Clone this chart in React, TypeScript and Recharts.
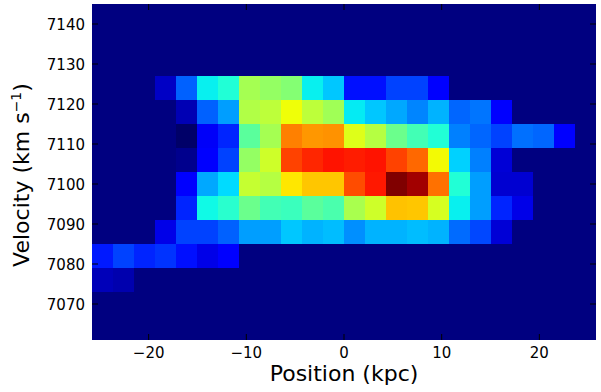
import { ScatterChart, Scatter, XAxis, YAxis } from 'recharts'

// bin centres of the position-velocity grid
const positions = [
  -24.725, -22.575, -20.425, -18.275, -16.125, -13.975, -11.825, -9.675,
  -7.525, -5.375, -3.225, -1.075, 1.075, 3.225, 5.375, 7.525,
  9.675, 11.825, 13.975, 16.125, 18.275, 20.425, 22.575, 24.725,
]
const velocities = [7142, 7136, 7130, 7124, 7118, 7112, 7106, 7100, 7094, 7088, 7082, 7076, 7070, 7064]

const xTicks = [-20, -10, 0, 10, 20]
const yTicks = [7070, 7080, 7090, 7100, 7110, 7120, 7130, 7140]

// normalised flux per velocity row (top to bottom), one value per position bin
const v7142 = [0, 0, 0, 0, 0, 0, 0, 0, 0, 0, 0, 0, 0, 0, 0, 0, 0, 0, 0, 0, 0, 0, 0, 0]
const v7136 = [0, 0, 0, 0, 0, 0, 0, 0, 0, 0, 0, 0, 0, 0, 0, 0, 0, 0, 0, 0, 0, 0, 0, 0]
const v7130 = [0, 0, 0, 0, 0, 0, 0, 0, 0, 0, 0, 0, 0, 0, 0, 0, 0, 0, 0, 0, 0, 0, 0, 0]
const v7124 = [0, 0, 0, 0.06, 0.22, 0.36, 0.39, 0.55, 0.53, 0.51, 0.36, 0.32, 0.14, 0.14, 0.19, 0.19, 0.12, 0, 0, 0, 0, 0, 0, 0]
const v7118 = [0, 0, 0, 0, 0.045, 0.22, 0.28, 0.565, 0.58, 0.64, 0.58, 0.545, 0.355, 0.32, 0.29, 0.255, 0.3, 0.225, 0.24, 0.12, 0, 0, 0, 0]
const v7112 = [0, 0, 0, 0, -0.02, 0.105, 0.16, 0.46, 0.55, 0.775, 0.75, 0.755, 0.62, 0.57, 0.48, 0.43, 0.39, 0.25, 0.225, 0.19, 0.235, 0.225, 0.12, 0]
const v7106 = [0, 0, 0, 0, 0.012, 0.12, 0.19, 0.53, 0.6, 0.84, 0.87, 0.89, 0.88, 0.89, 0.84, 0.8, 0.645, 0.33, 0.25, 0.075, 0, 0, 0, 0]
const v7100 = [0, 0, 0, 0, 0.12, 0.29, 0.34, 0.59, 0.57, 0.665, 0.7, 0.7, 0.83, 0.885, 1.0, 0.97, 0.79, 0.39, 0.28, 0.07, 0.07, 0, 0, 0]
const v7094 = [0, 0, 0, 0, 0.16, 0.37, 0.4, 0.48, 0.43, 0.42, 0.46, 0.44, 0.555, 0.6, 0.705, 0.7, 0.61, 0.36, 0.28, 0.16, 0.09, 0, 0, 0]
const v7088 = [0, 0, 0, 0.09, 0.19, 0.19, 0.22, 0.28, 0.28, 0.32, 0.3, 0.31, 0.265, 0.3, 0.3, 0.31, 0.3, 0.23, 0.195, 0.075, 0, 0, 0, 0]
const v7082 = [0.15, 0.19, 0.16, 0.175, 0.14, 0.09, 0.12, 0, 0, 0, 0, 0, 0, 0, 0, 0, 0, 0, 0, 0, 0, 0, 0, 0]
const v7076 = [0.05, 0.04, 0, 0, 0, 0, 0, 0, 0, 0, 0, 0, 0, 0, 0, 0, 0, 0, 0, 0, 0, 0, 0, 0]
const v7070 = [0, 0, 0, 0, 0, 0, 0, 0, 0, 0, 0, 0, 0, 0, 0, 0, 0, 0, 0, 0, 0, 0, 0, 0]
const v7064 = [0, 0, 0, 0, 0, 0, 0, 0, 0, 0, 0, 0, 0, 0, 0, 0, 0, 0, 0, 0, 0, 0, 0, 0]

const rows = [v7142, v7136, v7130, v7124, v7118, v7112, v7106, v7100, v7094, v7088, v7082, v7076, v7070, v7064]

const cells = rows.flatMap((row, r) =>
  row.map((v, c) => ({ x: positions[c], y: velocities[r], v })),
)

const W = 601
const H = 392
const MARGIN = { top: 4, right: 5, bottom: 0, left: 0 }
const Y_AXIS_W = 92
const X_AXIS_H = 52
const PLOT_W = W - MARGIN.left - MARGIN.right - Y_AXIS_W
const PLOT_H = H - MARGIN.top - MARGIN.bottom - X_AXIS_H
const CELL_W = PLOT_W / positions.length
const CELL_H = PLOT_H / velocities.length
const FONT = '"DejaVu Sans", sans-serif'
const TICK = 6
const X_DOMAIN: [number, number] = [-25.8, 25.8]
const Y_DOMAIN: [number, number] = [7061, 7145]

// inward tick marks on all four sides, plus the frame corner, placed through the axes' scales
const bottomMarks = xTicks.map((t) => ({ x: t, y: Y_DOMAIN[0] }))
const topMarks = xTicks.map((t) => ({ x: t, y: Y_DOMAIN[1] }))
const leftMarks = yTicks.map((t) => ({ x: X_DOMAIN[0], y: t }))
const rightMarks = yTicks.map((t) => ({ x: X_DOMAIN[1], y: t }))
const frameCorner = [{ x: X_DOMAIN[0], y: Y_DOMAIN[1] }]

// matplotlib "jet"
function seg(pts: number[][], t: number) {
  if (t <= pts[0][0]) return pts[0][1]
  for (let i = 1; i < pts.length; i++) {
    if (t <= pts[i][0]) {
      const [x0, y0] = pts[i - 1]
      const [x1, y1] = pts[i]
      return y0 + ((t - x0) / (x1 - x0)) * (y1 - y0)
    }
  }
  return pts[pts.length - 1][1]
}
function jet(v: number) {
  const t = Math.min(1, v)
  const r = seg([[0, 0], [0.35, 0], [0.66, 1], [0.89, 1], [1, 0.5]], t)
  const g = seg([[0, 0], [0.125, 0], [0.375, 1], [0.64, 1], [0.91, 0], [1, 0]], t)
  // below zero the blue keeps darkening a little, as in the picture
  const b = t < 0 ? Math.max(0, 0.5 + (t / 0.11) * 0.5) : seg([[0, 0.5], [0.11, 1], [0.34, 1], [0.65, 0], [1, 0]], t)
  const h = (n: number) => Math.round(n * 255).toString(16).padStart(2, '0')
  return `#${h(r)}${h(g)}${h(b)}`
}

const fmt = (n: number) => (n < 0 ? `\u2212${Math.abs(n)}` : `${n}`)

const HeatCell = (props: any) => {
  const { cx, cy, payload } = props
  return (
    <rect
      x={cx - CELL_W / 2}
      y={cy - CELL_H / 2}
      width={CELL_W}
      height={CELL_H}
      fill={jet(payload.v)}
      shapeRendering="crispEdges"
    />
  )
}

const tickMark = (dx: number, dy: number) => (props: any) => (
  <line x1={props.cx} y1={props.cy} x2={props.cx + dx} y2={props.cy + dy} stroke="#000" strokeWidth={1} />
)
const Frame = (props: any) => (
  <rect
    x={props.cx - 0.5}
    y={props.cy - 0.5}
    width={PLOT_W + 1}
    height={PLOT_H + 1}
    fill="none"
    stroke="#000"
    strokeWidth={1}
  />
)

const BottomLabel = ({ x, y, payload }: any) => (
  <text x={x} y={y + 18} textAnchor="middle" fontSize={15} fontFamily={FONT} fill="#000">
    {fmt(payload.value)}
  </text>
)
const LeftLabel = ({ x, y, payload }: any) => (
  <text x={x - 7} y={y + 5.5} textAnchor="end" fontSize={15} fontFamily={FONT} fill="#000">
    {payload.value}
  </text>
)

const XTitle = ({ viewBox }: any) => (
  <text x={viewBox.x + viewBox.width / 2} y={viewBox.y + 41} textAnchor="middle" fontSize={22} fontFamily={FONT} fill="#000">
    Position (kpc)
  </text>
)
const YTitle = ({ viewBox }: any) => {
  const cx = 29
  const cy = viewBox.y + 171
  return (
    <text x={cx} y={cy} transform={`rotate(-90 ${cx} ${cy})`} textAnchor="middle" fontSize={22} fontFamily={FONT} fill="#000">
      Velocity (km s
      <tspan fontSize={14} dy={-8}>{'\u22121'}</tspan>
      <tspan dy={8}>)</tspan>
    </text>
  )
}

export default function App() {
  return (
    <div style={{ position: 'absolute', left: 0, top: 0, width: W, height: H, background: '#fff' }}>
      <ScatterChart width={W} height={H} margin={MARGIN}>
        <XAxis
          type="number"
          dataKey="x"
          domain={X_DOMAIN}
          allowDataOverflow
          ticks={xTicks}
          interval={0}
          height={X_AXIS_H}
          tickSize={0}
          tickMargin={0}
          tickLine={false}
          axisLine={false}
          tick={<BottomLabel />}
          label={<XTitle />}
        />
        <YAxis
          type="number"
          dataKey="y"
          domain={Y_DOMAIN}
          allowDataOverflow
          ticks={yTicks}
          interval={0}
          width={Y_AXIS_W}
          tickSize={0}
          tickMargin={0}
          tickLine={false}
          axisLine={false}
          tick={<LeftLabel />}
          label={<YTitle />}
        />
        <Scatter data={cells} shape={HeatCell} isAnimationActive={false} />
        <Scatter data={frameCorner} shape={Frame} isAnimationActive={false} />
        <Scatter data={bottomMarks} shape={tickMark(0, -TICK)} isAnimationActive={false} />
        <Scatter data={topMarks} shape={tickMark(0, TICK)} isAnimationActive={false} />
        <Scatter data={leftMarks} shape={tickMark(TICK, 0)} isAnimationActive={false} />
        <Scatter data={rightMarks} shape={tickMark(-TICK, 0)} isAnimationActive={false} />
      </ScatterChart>
    </div>
  )
}
